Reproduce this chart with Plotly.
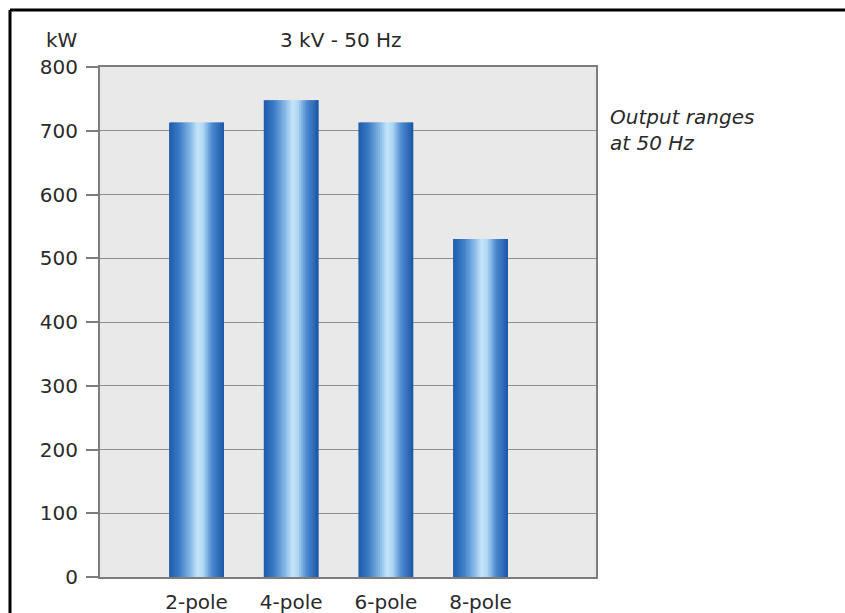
import plotly.graph_objects as go

categories = ["2-pole", "4-pole", "6-pole", "8-pole"]
output_kw = [713, 748, 713, 530]
y_ticks = [0, 100, 200, 300, 400, 500, 600, 700, 800]

title_text = "3 kV - 50 Hz"
unit_text = "kW"
note_lines = ["<i>Output ranges</i>", "<i>at 50 Hz</i>"]

# gradient stops across a bar (left -> right)
stops = [(0.0, (30, 92, 172)), (0.18, (58, 122, 196)), (0.38, (130, 182, 230)),
         (0.52, (196, 229, 248)), (0.62, (176, 216, 244)), (0.78, (78, 138, 208)),
         (1.0, (26, 86, 166))]


def grad(t):
    for (t0, c0), (t1, c1) in zip(stops[:-1], stops[1:]):
        if t0 <= t <= t1:
            f = (t - t0) / (t1 - t0) if t1 > t0 else 0
            c = [round(a + (b - a) * f) for a, b in zip(c0, c1)]
            return "rgb(%d,%d,%d)" % tuple(c)
    return "rgb(%d,%d,%d)" % stops[-1][1]


fig = go.Figure()
bar_w = 0.58
n = 28
step = bar_w / n
for k in range(n):
    off = -bar_w / 2 + k * step
    w = min(step * 1.7, bar_w / 2 - off)
    fig.add_trace(go.Bar(
        x=categories, y=output_kw, offset=off, width=w,
        marker=dict(color=grad((k + 0.5) / n), line=dict(width=0)),
        showlegend=False, hoverinfo="skip"))

font_fam = "DejaVu Sans"
fs = 20
fig.update_layout(
    width=845, height=613,
    margin=dict(l=100, r=249, t=67, b=36),
    paper_bgcolor="white", plot_bgcolor="#e9e9e9",
    barmode="overlay",
    font=dict(family=font_fam, size=fs, color="#2a2a2a"),
    xaxis=dict(range=[-1.02, 4.22], showline=True, linecolor="#7d7d7d", linewidth=2,
               mirror=True, ticks="", showgrid=False, tickfont=dict(size=fs),
               ticklabelstandoff=6, automargin=False),
    yaxis=dict(range=[0, 800], tickvals=y_ticks, showline=True, linecolor="#7d7d7d",
               linewidth=2, mirror=True, ticks="outside", ticklen=12, tickcolor="#7d7d7d",
               tickwidth=1.5, showgrid=True, gridcolor="#8f8f8f", gridwidth=1.3,
               zeroline=False, tickfont=dict(size=fs), ticklabelstandoff=4,
               automargin=False),
    shapes=[
        dict(type="line", xref="paper", yref="paper",
             x0=(10 - 100) / 496, x1=(846 - 100) / 496,
             y0=(577 - 10) / 510, y1=(577 - 10) / 510,
             line=dict(color="black", width=3)),
        dict(type="line", xref="paper", yref="paper",
             x0=(10 - 100) / 496, x1=(10 - 100) / 496,
             y0=(577 - 10) / 510, y1=(577 - 620) / 510,
             line=dict(color="black", width=3)),
    ],
    annotations=[
        dict(text=title_text, xref="paper", yref="paper",
             x=(341 - 100) / 496, y=(577 - 40) / 510, showarrow=False,
             xanchor="center", yanchor="middle", font=dict(size=fs)),
        dict(text=unit_text, xref="paper", yref="paper",
             x=(62 - 100) / 496, y=(577 - 40) / 510, showarrow=False,
             xanchor="center", yanchor="middle", font=dict(size=fs)),
        dict(text=note_lines[0], xref="paper", yref="paper",
             x=(608 - 100) / 496, y=(577 - 117) / 510, showarrow=False,
             xanchor="left", yanchor="middle", align="left", font=dict(size=fs)),
        dict(text=note_lines[1], xref="paper", yref="paper",
             x=(608 - 100) / 496, y=(577 - 143) / 510, showarrow=False,
             xanchor="left", yanchor="middle", align="left", font=dict(size=fs)),
    ],
)

fig.write_html("out.html", config={"displayModeBar": False},
               post_script="document.body.style.margin='0';")
